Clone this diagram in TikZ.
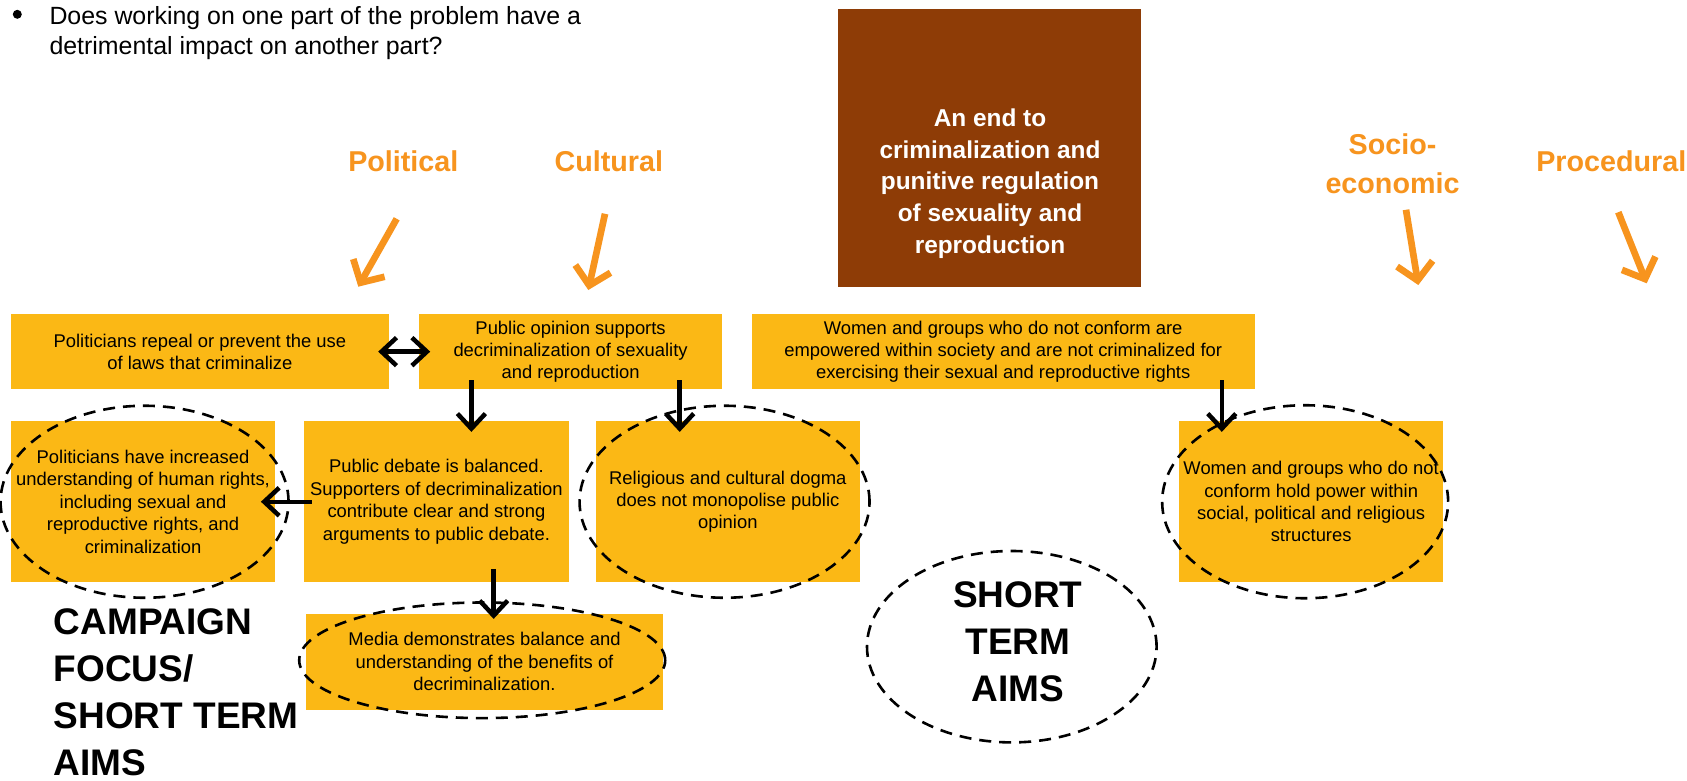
\documentclass[tikz,border=0pt]{standalone}
\usepackage{fontspec}
\setmainfont{Liberation Sans}
\usepackage{tikz}
\usetikzlibrary{positioning,arrows.meta,shapes.geometric}
\definecolor{goalbrown}{RGB}{142,60,6}
\definecolor{aimyellow}{RGB}{251,184,21}
\definecolor{areaorange}{RGB}{247,148,30}
\tikzset{
  aim/.style={fill=aimyellow, align=center, inner sep=0pt, font=\fontsize{18.4}{22.4}\selectfont},
  aimrow/.style={minimum width=264.5pt, minimum height=160.7pt},
  ring/.style={ellipse, draw, line width=2.6pt, dash pattern=on 12pt off 8pt, inner sep=0pt},
  area/.style={text=areaorange, align=center, inner sep=0pt, font=\fontsize{28.7}{38.3}\selectfont\bfseries},
  push/.style={draw=areaorange, line width=6.7pt, -{Straight Barb[length=17pt,width=36pt]}},
  link/.style={line width=4.5pt, -{Straight Barb[length=15pt,width=28pt]}},
  link2/.style={link, {Straight Barb[length=15pt,width=28pt]}-{Straight Barb[length=15pt,width=28pt]}},
  big/.style={align=left, inner sep=0pt, font=\fontsize{37}{47}\selectfont\bfseries},
}
\begin{document}
\begin{tikzpicture}[x=1pt, y=-1pt]
    \path[use as bounding box, fill=white] (0,0) rectangle (1687,781);
    \node[circle, fill, inner sep=0pt, minimum size=9pt] (dot) at (17.3,14.3) {};
    \node[anchor=north west, align=left, inner sep=0pt, font=\fontsize{24.9}{29.5}\selectfont] (question) at (49.3,6.5) {Does working on one part of the problem have a\\detrimental impact on another part?};
    \node[fill=goalbrown, minimum width=302.7pt, minimum height=278.3pt] (goal) at (989.7,148.2) {};
    \node[text=white, align=center, inner sep=0pt, font=\fontsize{24.4}{31.7}\selectfont\bfseries] (goaltext) at (990,183.6) {An end to\\criminalization and\\punitive regulation\\of sexuality and\\reproduction};

    \node[area, anchor=base] (political) at (403.3,171.7) {Political};
    \node[area, anchor=base] (cultural) at (608.8,171.7) {Cultural};
    \node[area, anchor=north] (socio) at (1392.5,134) {Socio-\\economic};
    \node[area, anchor=base] (procedural) at (1611.3,171.7) {Procedural};
    \coordinate (politicaltip) at (358.3,286.7);
    \coordinate (culturaltip) at (588.3,290);
    \coordinate (sociotip) at (1418.3,285);
    \coordinate (proceduraltip) at (1646.7,283.3);
    \draw[push] ([xshift=-6.6pt,yshift=-46.6pt]political.south) -- (politicaltip);
    \draw[push] ([xshift=-3.8pt,yshift=-41.6pt]cultural.south) -- (culturaltip);
    \draw[push] ([xshift=13.5pt,yshift=-16pt]socio.south) -- (sociotip);
    \draw[push] ([xshift=7pt,yshift=-40pt]procedural.south) -- (proceduraltip);

    \node[aim, minimum width=378.2pt, minimum height=75.3pt] (repeal) at (199.9,351.65) {Politicians repeal or prevent the use\\of laws that criminalize};
    \node[aim, minimum width=302.4pt, minimum height=75.3pt, right=30pt of repeal] (opinion) {Public opinion supports\\decriminalization of sexuality\\and reproduction};
    \node[aim, minimum width=502.8pt, minimum height=75.3pt, right=29.6pt of opinion] (empower) {Women and groups who do not conform are\\empowered within society and are not criminalized for\\exercising their sexual and reproductive rights};
    \node[aim, aimrow, below=31.7pt of repeal.south west, anchor=north west] (understand) {Politicians have increased\\understanding of human rights,\\including sexual and\\reproductive rights, and\\criminalization};
    \node[aim, aimrow, right=28.5pt of understand] (debate) {Public debate is balanced.\\Supporters of decriminalization\\contribute clear and strong\\arguments to public debate.};
    \node[aim, aimrow, right=26.5pt of debate] (dogma) {Religious and cultural dogma\\does not monopolise public\\opinion};
    \node[aim, aimrow, right=318.4pt of dogma] (power) {Women and groups who do not\\conform hold power within\\social, political and religious\\structures};
    \node[aim, minimum width=356.6pt, minimum height=96.6pt, below right=31pt and 2pt of debate.south west] (media) {Media demonstrates balance and\\understanding of the benefits of\\decriminalization.};

    \node[ring, minimum width=288pt, minimum height=192pt, xshift=1.5pt] (ring1) at (understand) {};
    \node[ring, minimum width=290pt, minimum height=192pt, xshift=-3.3pt] (ring2) at (dogma) {};
    \node[ring, minimum width=286pt, minimum height=193pt, xshift=-6pt] (ring3) at (power) {};
    \node[ring, minimum width=366pt, minimum height=115.6pt, xshift=-2.3pt, yshift=1.5pt] (ring4) at (media) {};
    \node[ring, minimum width=289.6pt, minimum height=191.4pt] (ring5) at (1011.8,646.7) {};
    \node[big, align=center] (shortterm) at ([xshift=6pt,yshift=4.9pt]ring5.center) {SHORT\\TERM\\AIMS};
    \node[big, anchor=north west] (focus) at (53.6,608.5) {CAMPAIGN\\FOCUS/\\SHORT TERM\\AIMS};

    \draw[link2, shorten <=-11pt, shorten >=-11pt] (repeal.east) -- (opinion.west);
    \draw[link, shorten <=-9.3pt, shorten >=-10.7pt] ([xshift=-99.2pt]opinion.south) -- ([xshift=-99.2pt]opinion.south |- debate.north);
    \draw[link, shorten <=-9.3pt, shorten >=-10.7pt] ([xshift=109.1pt]opinion.south) -- ([xshift=109.1pt]opinion.south |- dogma.north);
    \draw[link, shorten <=-9.3pt, shorten >=-10.7pt] ([xshift=218.6pt]empower.south) -- ([xshift=218.6pt]empower.south |- power.north);
    \draw[link, shorten <=-7.8pt, shorten >=-14.6pt] (debate.west) -- (debate.west -| understand.east);
    \draw[link, shorten <=-13.4pt, shorten >=-5.6pt] ([xshift=57.2pt]debate.south) -- ([xshift=57.2pt]debate.south |- media.north);
\end{tikzpicture}
\end{document}
